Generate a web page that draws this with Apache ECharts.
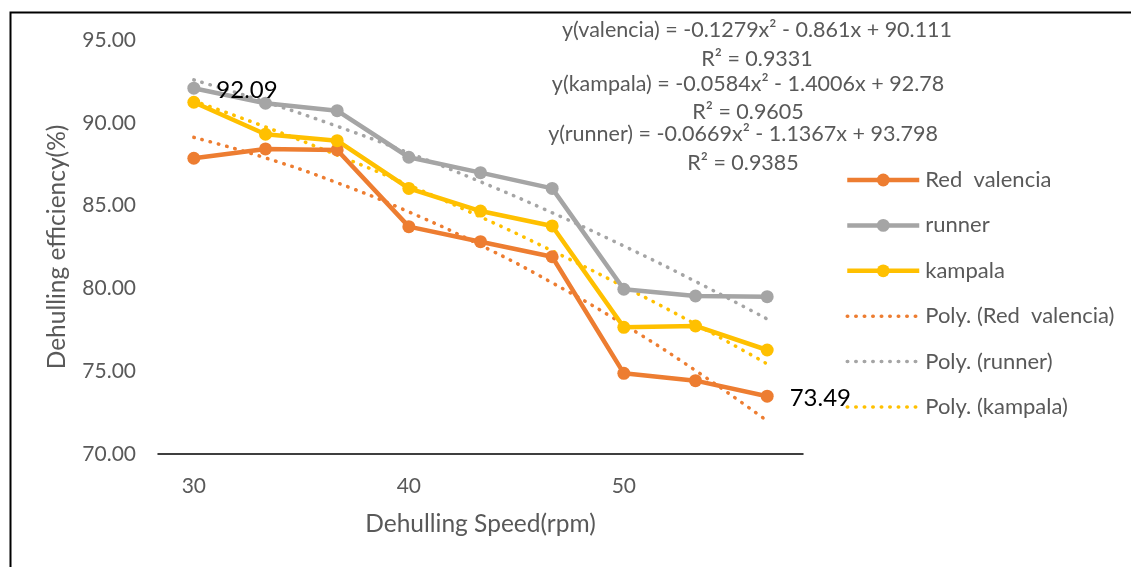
<!DOCTYPE html>
<html>
<head>
<meta charset="utf-8">
<script src="https://cdn.jsdelivr.net/npm/echarts@6/dist/echarts.min.js"></script>
<style>
html,body{margin:0;padding:0;background:#fff;}
#chart{width:1131px;height:567px;}
</style>
</head>
<body>
<div id="chart"></div>
<script>
// ---- data ----
var speeds = ["30", "33", "37", "40", "43", "47", "50", "53", "57"];
var redValencia = [87.86, 88.42, 88.36, 83.73, 82.82, 81.91, 74.87, 74.43, 73.49];
var runner = [92.09, 91.18, 90.73, 87.92, 86.99, 86.04, 79.95, 79.54, 79.50];
var kampala = [91.24, 89.31, 88.92, 86.04, 84.67, 83.77, 77.65, 77.73, 76.28];
// polynomial trend lines as drawn (values read at each category)
var polyRedValencia = [89.12, 87.88, 86.38, 84.62, 82.61, 80.34, 77.82, 75.04, 72.00];
var polyRunner = [92.59, 91.26, 89.79, 88.18, 86.44, 84.57, 82.56, 80.42, 78.15];
var polyKampala = [91.32, 89.75, 88.05, 86.24, 84.32, 82.27, 80.11, 77.84, 75.44];
var trendEquations = [
  "y(valencia) = -0.1279x\u00b2 - 0.861x + 90.111",
  "R\u00b2 = 0.9331",
  "y(kampala) = -0.0584x\u00b2 - 1.4006x + 92.78",
  "R\u00b2 = 0.9605",
  "y(runner) = -0.0669x\u00b2 - 1.1367x + 93.798",
  "R\u00b2 = 0.9385"
];
var labelledRunnerIndex = 0;
var labelledRedIndex = 8;

// ---- styling ----
var FONT = 'Lato';
var GREY_TEXT = '#595959';
var C_RED = '#ED7D31', C_GREY = '#A5A5A5', C_GOLD = '#FFC000';

function withLabel(arr, idx) {
  return arr.map(function (v, i) {
    if (i !== idx) return v;
    return {
      value: v,
      label: {
        show: true, position: 'right', distance: 16, offset: [0, 2],
        color: '#000', fontFamily: FONT, fontSize: 24,
        formatter: function (p) { return Number(p.value).toFixed(2); }
      }
    };
  });
}

function mainSeries(name, color, data) {
  return {
    name: name, type: 'line', data: data,
    symbol: 'circle', symbolSize: 13,
    lineStyle: { color: color, width: 4.5 },
    itemStyle: { color: color },
    emphasis: { disabled: true },
    z: 3
  };
}
function polySeries(name, color, data) {
  return {
    name: name, type: 'line', data: data, smooth: true,
    symbol: 'none',
    lineStyle: { color: color, width: 3.5, type: [0.5, 8], cap: 'round' },
    itemStyle: { color: color },
    emphasis: { disabled: true },
    z: 2
  };
}

var eqPos = [[757, 30], [757, 59], [748, 84], [748, 112], [743, 134], [743, 163]];
var graphics = [{
  type: 'rect', left: 8, top: 10, silent: true,
  shape: { x: 0, y: 0, width: 1300, height: 700 },
  style: { fill: 'none', stroke: '#000', lineWidth: 2 }
}];
trendEquations.forEach(function (t, i) {
  graphics.push({
    type: 'text', x: eqPos[i][0], y: eqPos[i][1], silent: true,
    style: { text: t, fill: GREY_TEXT, font: '21.5px ' + FONT, textAlign: 'center', textVerticalAlign: 'middle' }
  });
});

var legendNames = ['Red  valencia', 'runner', 'kampala', 'Poly. (Red  valencia)', 'Poly. (runner)', 'Poly. (kampala)'];
var legendData = legendNames.map(function (n, i) {
  return i < 3 ? { name: n } : { name: n, itemStyle: { opacity: 0 } };
});

var chart = echarts.init(document.getElementById('chart'), null, { renderer: 'canvas' });
chart.setOption({
  animation: false,
  backgroundColor: '#fff',
  textStyle: { fontFamily: FONT },
  grid: { left: 158, right: 328, top: 40, bottom: 113 },
  xAxis: {
    type: 'category', data: speeds, boundaryGap: true,
    name: 'Dehulling Speed(rpm)', nameLocation: 'middle', nameGap: 58,
    nameTextStyle: { color: GREY_TEXT, fontSize: 24.5, fontFamily: FONT },
    axisLine: { show: true, lineStyle: { color: '#000', width: 1.5 } },
    axisTick: { show: false },
    axisLabel: { interval: 2, color: GREY_TEXT, fontSize: 21, fontFamily: FONT, margin: 22 },
    splitLine: { show: false }
  },
  yAxis: {
    type: 'value', min: 70, max: 95, interval: 5,
    name: 'Dehulling efficiency(%)', nameLocation: 'middle', nameGap: 88, nameRotate: 90,
    nameTextStyle: { color: GREY_TEXT, fontSize: 24.5, fontFamily: FONT },
    axisLine: { show: false }, axisTick: { show: false },
    axisLabel: { color: GREY_TEXT, fontSize: 21, fontFamily: FONT, margin: 22,
      formatter: function (v) { return v.toFixed(2); } },
    splitLine: { show: false }
  },
  legend: {
    orient: 'vertical', left: 845, top: 169, padding: 0,
    itemWidth: 72, itemHeight: 16, itemGap: 23.4,
    lineStyle: { width: 'inherit' },
    textStyle: { color: GREY_TEXT, fontSize: 22, fontFamily: FONT, lineHeight: 20, padding: [0, 0, 0, 1] },
    data: legendData
  },
  graphic: graphics,
  series: [
    mainSeries('Red  valencia', C_RED, withLabel(redValencia, labelledRedIndex)),
    mainSeries('runner', C_GREY, withLabel(runner, labelledRunnerIndex)),
    mainSeries('kampala', C_GOLD, kampala),
    polySeries('Poly. (Red  valencia)', C_RED, polyRedValencia),
    polySeries('Poly. (runner)', C_GREY, polyRunner),
    polySeries('Poly. (kampala)', C_GOLD, polyKampala)
  ]
});
</script>
</body>
</html>
